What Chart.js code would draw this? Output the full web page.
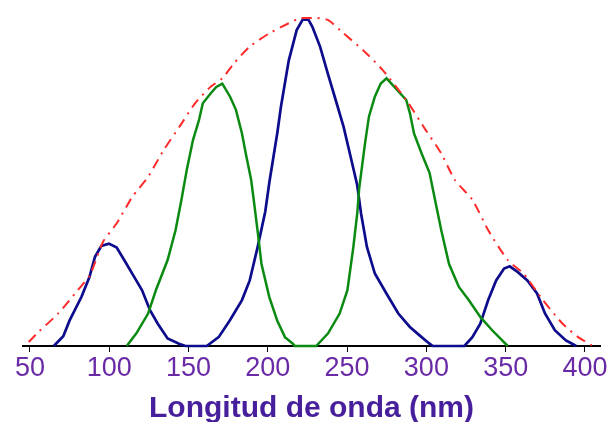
<!DOCTYPE html>
<html>
<head>
<meta charset="utf-8">
<script src="https://cdn.jsdelivr.net/npm/chart.js@4.4.1/dist/chart.umd.min.js"></script>
<style>
  html, body { margin: 0; padding: 0; background: #fff; }
  #wrap { width: 613px; height: 422px; }
</style>
</head>
<body>
<div id="wrap"><canvas id="myChart" width="613" height="422"></canvas></div>
<script>
// longitudes de onda (nm) e intensidades relativas
const xTicks = [50, 100, 150, 200, 250, 300, 350, 400];

const azulX = [65, 71, 75, 82.5, 87.5, 91, 95, 99.8, 104.7, 109.7, 115.8, 120.7, 125.7, 130.6, 136.8, 144, 148,
  161.5, 169, 176, 183.7, 188.6, 193.5, 198.4, 201, 206, 208.3, 213.2, 218.2, 222, 225.6, 228.1, 233, 237.9, 242.8,
  247.8, 252.7, 256.4, 258.8, 262.5, 267.5, 274.8, 282.3, 289.6, 297, 302, 304,
  324, 329, 334, 339, 344, 349, 352.6, 357.5, 363.7, 369.8, 374.8, 381, 388, 394.5];
const azulY = [0, 0.03, 0.078, 0.15, 0.21, 0.272, 0.305, 0.312, 0.3, 0.26, 0.21, 0.17, 0.109, 0.068, 0.023, 0.007, 0,
  0, 0.027, 0.078, 0.14, 0.2, 0.3, 0.41, 0.5, 0.65, 0.73, 0.87, 0.963, 0.995, 0.995, 0.973, 0.912, 0.83, 0.75,
  0.668, 0.567, 0.49, 0.404, 0.302, 0.221, 0.16, 0.099, 0.058, 0.027, 0.007, 0,
  0, 0.027, 0.068, 0.14, 0.2, 0.236, 0.243, 0.226, 0.2, 0.16, 0.099, 0.048, 0.017, 0];

const verdeX = [111, 117, 124.5, 129.4, 136.8, 141.8, 145.5, 149, 152.8, 156.6, 159, 163.9, 167.5, 171.3, 176.2,
  179.9, 183.7, 186.1, 189.5, 191, 193.5, 196, 200.9, 205.9, 210.8, 215.8, 217,
  230.5, 237.9, 245.3, 250.2, 253.9, 256.4, 257.6, 261.3, 263.8, 267.5, 271.2, 274.9, 279.8, 287.3, 289.6, 292.2,
  297, 302, 305.7, 309.4, 314.3, 320.5, 326.7, 334.1, 341.5, 351.3];
const verdeY = [0, 0.038, 0.099, 0.17, 0.262, 0.353, 0.445, 0.54, 0.628, 0.689, 0.74, 0.77, 0.79, 0.8, 0.76,
  0.72, 0.648, 0.587, 0.506, 0.45, 0.353, 0.25, 0.15, 0.078, 0.027, 0.007, 0,
  0, 0.038, 0.099, 0.17, 0.3, 0.404, 0.48, 0.618, 0.7, 0.76, 0.8, 0.816, 0.79, 0.75, 0.71, 0.648,
  0.587, 0.528, 0.44, 0.353, 0.25, 0.18, 0.14, 0.088, 0.048, 0];

const rojoX = [49.2, 55.4, 67.8, 80.1, 87.8, 96.1, 104.7, 114.6, 124.5, 134.4, 144.2, 154.1, 163.9, 171.3, 178.7,
  188.6, 200.9, 213.2, 220.6, 230.5, 237.9, 247.8, 260.1, 272.5, 287.3, 299.5, 309.4, 318, 329.1, 339, 351.3,
  361.2, 373.5, 385.9, 395.7, 404.3];
const rojoY = [0.012, 0.043, 0.099, 0.17, 0.216, 0.318, 0.374, 0.455, 0.516, 0.598, 0.668, 0.74, 0.79, 0.816, 0.862,
  0.913, 0.953, 0.984, 1.0, 1.0, 0.994, 0.953, 0.902, 0.841, 0.75, 0.659, 0.587, 0.506, 0.445, 0.353, 0.262,
  0.221, 0.14, 0.068, 0.027, 0.002];

function puntos(xs, ys) {
  return xs.map((x, i) => ({ x: x, y: ys[i] }));
}

const colorTicks = "#6a2aa6";
const colorTitulo = "#471f9c";

new Chart("myChart", {
  type: "scatter",
  data: {
    datasets: [
      {
        label: "envolvente",
        data: puntos(rojoX, rojoY),
        showLine: true,
        borderColor: "#ff2a2a",
        borderWidth: 2,
        borderDash: [10, 6, 2, 6],
        pointRadius: 0,
        tension: 0.2,
      },
      {
        label: "verde",
        data: puntos(verdeX, verdeY),
        showLine: true,
        borderColor: "#0b8a12",
        borderWidth: 2.5,
        pointRadius: 0,
        tension: 0,
      },
      {
        label: "azul",
        data: puntos(azulX, azulY),
        showLine: true,
        borderColor: "#0c0c8c",
        borderWidth: 2.7,
        pointRadius: 0,
        tension: 0,
      },
    ],
  },
  options: {
    responsive: false,
    animation: false,
    clip: false,
    layout: { padding: { top: 18, left: 23, right: 13, bottom: 0 } },
    plugins: { legend: { display: false }, tooltip: { enabled: false } },
    scales: {
      x: {
        type: "linear",
        min: 45.6,
        max: 409.5,
        afterBuildTicks: (scale) => {
          scale.ticks = xTicks.map((v) => ({ value: v }));
        },
        afterFit: (scale) => {
          scale.height = 76;
        },
        grid: {
          display: true,
          drawOnChartArea: false,
          drawTicks: true,
          tickLength: 6,
          color: "#000",
          lineWidth: 1,
        },
        border: { display: true, color: "#000", width: 2 },
        ticks: {
          color: colorTicks,
          font: { family: "'Liberation Sans Narrow', 'Liberation Sans', Arial", size: 27 },
          padding: 0,
          maxRotation: 0,
          autoSkip: false,
        },
        title: {
          display: true,
          text: "Longitud de onda (nm)",
          color: colorTitulo,
          font: { family: "'Liberation Sans', Arial", size: 30, weight: "bold", lineHeight: 1.1 },
          padding: { top: 0, bottom: -3 },
        },
      },
      y: {
        display: false,
        min: 0,
        max: 1,
      },
    },
  },
});
</script>
</body>
</html>
